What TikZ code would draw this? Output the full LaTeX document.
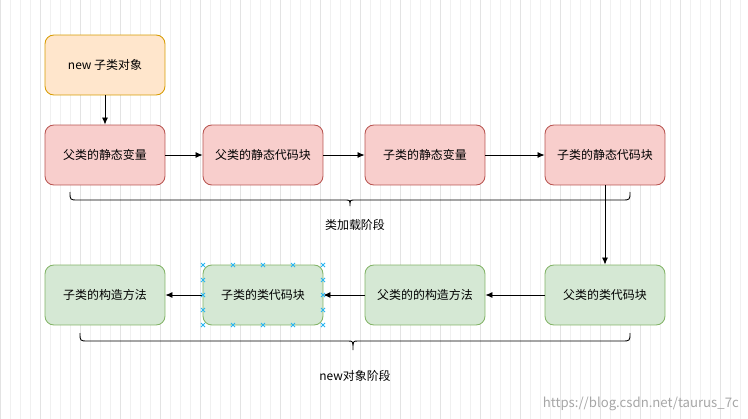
\documentclass[tikz,border=0pt]{standalone}
\usepackage{fontspec}
\setmainfont{Noto Sans CJK SC}
\usetikzlibrary{arrows.meta,positioning}
\definecolor{orfill}{HTML}{FFE6CC}\definecolor{ordraw}{HTML}{D79B00}
\definecolor{rdfill}{HTML}{F8CECC}\definecolor{rddraw}{HTML}{B85450}
\definecolor{grfill}{HTML}{D5E8D4}\definecolor{grdraw}{HTML}{82B366}
\definecolor{selblue}{HTML}{29B6F2}
\tikzset{
  box/.style={rounded corners=5pt,minimum width=2.4cm,minimum height=1.2cm,
    font=\fontsize{6.8}{8}\selectfont,line width=0.5pt},
  orange/.style={box,fill=orfill,draw=ordraw},
  red/.style={box,fill=rdfill,draw=rddraw},
  green/.style={box,fill=grfill,draw=grdraw},
  link/.style={-{Latex[length=4pt,width=3.5pt]},line width=0.5pt},
  handle/.style={selblue,line width=0.5pt}
}
\begin{document}
\begin{tikzpicture}[x=0.02cm,y=-0.02cm]
  \useasboundingbox (0,0) rectangle (748,419);
  % grid
  \draw[black!6,line width=0.3pt] (0,0) grid[step=10] (748,419);
  \draw[black!11,line width=0.3pt] (0,0) grid[step=40] (748,419);
  % nodes
  \node[orange] (new) at (105,65) {new 子类对象};
  \node[red] (fsv) at (105,155) {父类的静态变量};
  \node[red] (fsb) at (263,155) {父类的静态代码块};
  \node[red] (csv) at (425,155) {子类的静态变量};
  \node[red] (csb) at (605,155) {子类的静态代码块};
  \node[green] (fcb) at (605,295) {父类的类代码块};
  \node[green] (fct) at (425,295) {父类的的构造方法};
  \node[green] (ccb) at (263,295) {子类的类代码块};
  \node[green] (cct) at (105,295) {子类的构造方法};
  % arrows
  \draw[link] (new) -- (fsv);
  \draw[link] (fsv) -- (fsb);
  \draw[link] (fsb) -- (csv);
  \draw[link] (csv) -- (csb);
  \draw[link] (csb) -- (fcb);
  \draw[link] (fcb) -- (fct);
  \draw[link] (fct) -- (ccb);
  \draw[link] (ccb) -- (cct);
  % selection handles
  \foreach \px/\py in {203/265,233/265,263/265,293/265,323/265,
      203/325,233/325,263/325,293/325,323/325,
      203/280,203/295,203/310,323/280,323/295,323/310}
    \draw[handle] (\px-2,\py-2) -- (\px+2,\py+2) (\px-2,\py+2) -- (\px+2,\py-2);
  % braces
  \draw[line width=0.5pt] (70,192) .. controls (70,200) .. (78,200) -- (345,200)
    .. controls (350,200) .. (350,206) .. controls (350,200) .. (355,200) -- (622,200)
    .. controls (630,200) .. (630,192);
  \node[font=\fontsize{6.8}{8}\selectfont] (lbl1) at (355,225) {类加载阶段};
  \draw[line width=0.5pt] (80,333) .. controls (80,341) .. (88,341) -- (348,341)
    .. controls (353,341) .. (353,350) .. controls (353,341) .. (358,341) -- (622,341)
    .. controls (630,341) .. (630,333);
  \node[font=\fontsize{6.8}{8}\selectfont] (lbl2) at (355,376) {new对象阶段};
  \node[font=\fontsize{7.5}{9}\selectfont,text=black!35,anchor=east] (wm) at (745,404)
    {https://blog.csdn.net/taurus\_7c};
\end{tikzpicture}
\end{document}
